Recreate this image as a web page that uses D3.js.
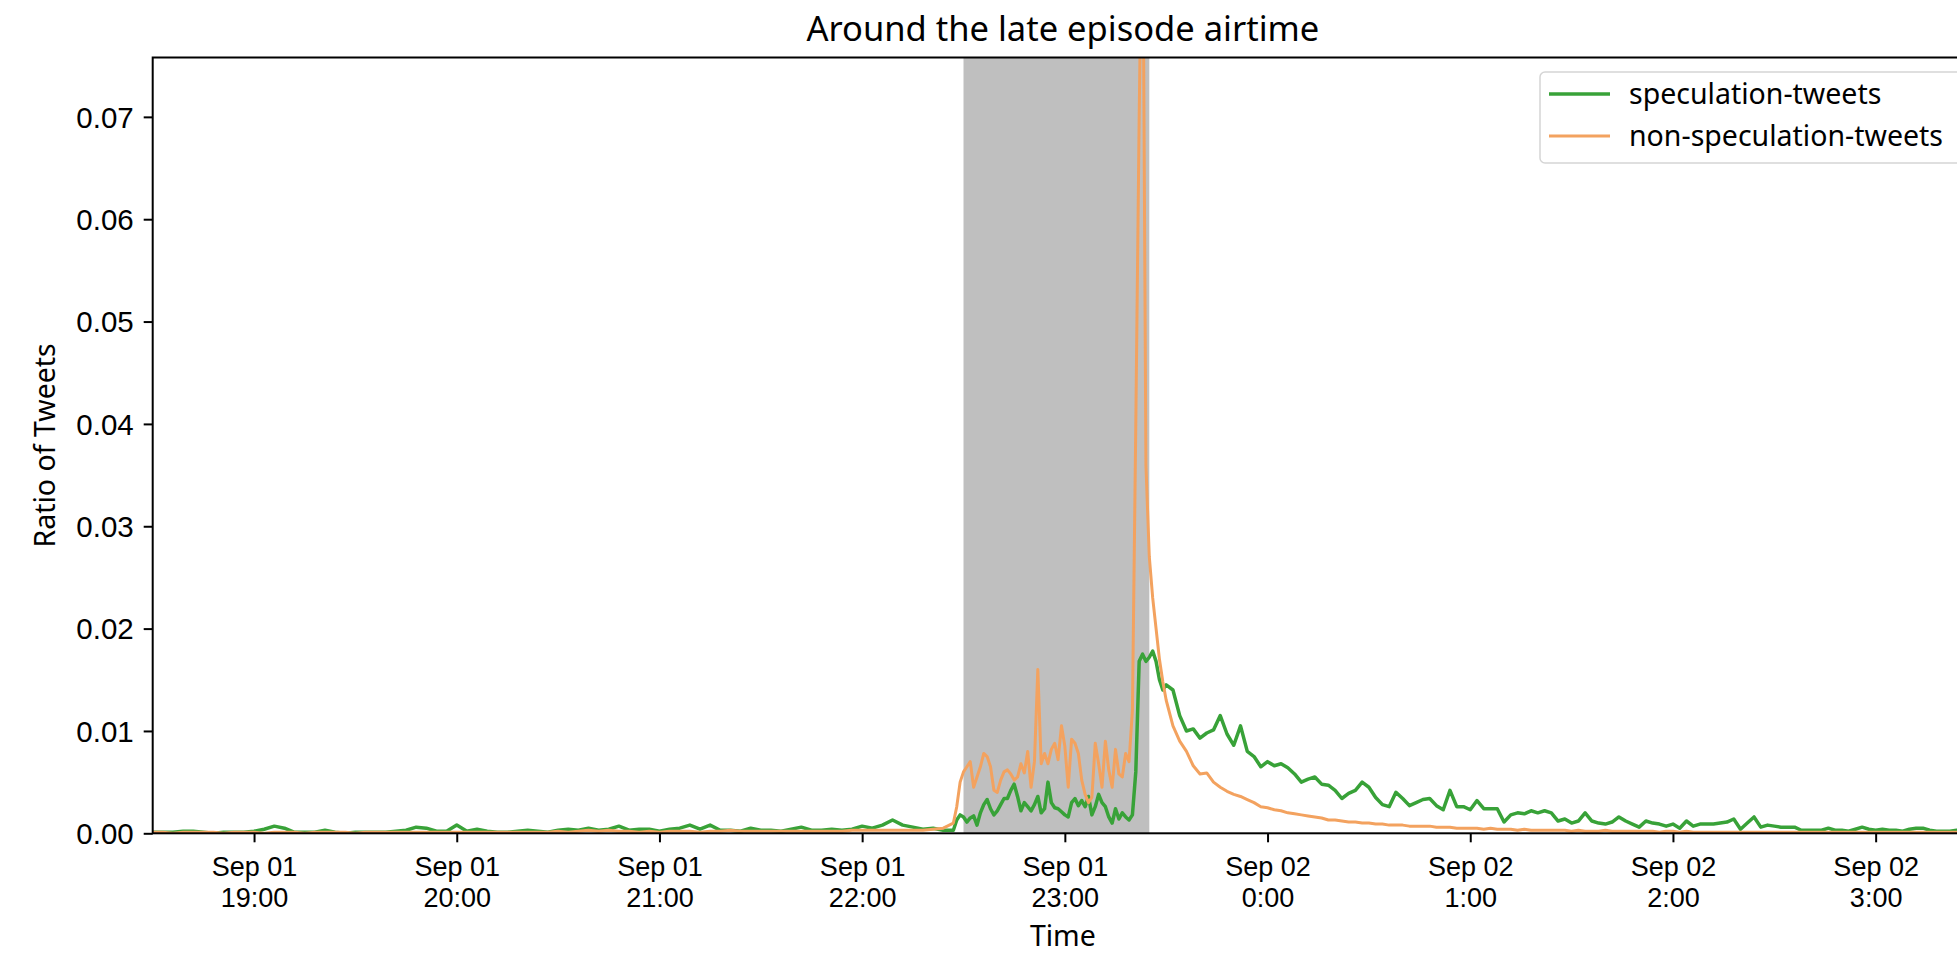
<!DOCTYPE html>
<html>
<head>
<meta charset="utf-8">
<script src="https://cdn.jsdelivr.net/npm/d3@7"></script>
<style>
  html, body { margin: 0; padding: 0; background: #fff; }
  svg { display: block; font-family: 'Noto Sans', 'DejaVu Sans', sans-serif; }
</style>
</head>
<body>
<svg id="chart" width="1957" height="953"></svg>
<script>
// series + airtime window
const seriesNames = ['speculation-tweets', 'non-speculation-tweets']
const seriesColors = ['#38a238', '#f3a25f']
const airtime = [new Date(2019, 8, 1, 22, 30), new Date(2019, 8, 1, 23, 25)]
const timeDomain = [new Date(2019, 8, 1, 18, 30), new Date(2019, 8, 2, 3, 30)]
const yTicks = [0, 0.01, 0.02, 0.03, 0.04, 0.05, 0.06, 0.07]

// 18:30 - 22:27, every 3 minutes
const earlyStart = new Date(2019, 8, 1, 18, 30)
const earlyStep = 3
const specEarly = [
  0.0001, 0.0001, 0.0001, 0.0002, 0.0002, 0.0001, 0.0000, 0.0001, 0.0001, 0.0001,
  0.0002, 0.0004, 0.0007, 0.0005, 0.0001, 0.0001, 0.0001, 0.0003, 0.0001, 0.0000,
  0.0001, 0.0001, 0.0001, 0.0001, 0.0002, 0.0003, 0.0006, 0.0005, 0.0002, 0.0002,
  0.0008, 0.0002, 0.0004, 0.0002, 0.0001, 0.0001, 0.0002, 0.0003, 0.0002, 0.0001,
  0.0003, 0.0004, 0.0003, 0.0005, 0.0003, 0.0004, 0.0007, 0.0003, 0.0004, 0.0004,
  0.0002, 0.0004, 0.0005, 0.0008, 0.0004, 0.0008, 0.0003, 0.0003, 0.0002, 0.0005,
  0.0003, 0.0003, 0.0002, 0.0004, 0.0006, 0.0003, 0.0003, 0.0004, 0.0003, 0.0004,
  0.0007, 0.0005, 0.0008, 0.0013, 0.0008, 0.0006, 0.0004, 0.0005, 0.0003, 0.0003
]
const nonSpecEarly = [
  0.0001, 0.0001, 0.0000, 0.0001, 0.0001, 0.0001, 0.0001, 0.0000, 0.0001, 0.0001,
  0.0001, 0.0000, 0.0001, 0.0001, 0.0001, 0.0000, 0.0001, 0.0001, 0.0001, 0.0001,
  0.0000, 0.0001, 0.0001, 0.0001, 0.0001, 0.0001, 0.0001, 0.0001, 0.0001, 0.0001,
  0.0001, 0.0001, 0.0001, 0.0001, 0.0001, 0.0001, 0.0001, 0.0001, 0.0001, 0.0001,
  0.0002, 0.0001, 0.0002, 0.0003, 0.0002, 0.0003, 0.0002, 0.0002, 0.0001, 0.0002,
  0.0001, 0.0002, 0.0002, 0.0002, 0.0001, 0.0002, 0.0002, 0.0003, 0.0002, 0.0002,
  0.0002, 0.0002, 0.0002, 0.0002, 0.0002, 0.0002, 0.0002, 0.0002, 0.0002, 0.0003,
  0.0003, 0.0003, 0.0003, 0.0003, 0.0003, 0.0003, 0.0003, 0.0004, 0.0005, 0.0010
]

// 22:28 - 23:29, every minute
const airStart = new Date(2019, 8, 1, 22, 28)
const airStep = 1
const specAir = [
  0.0013, 0.0018,
  0.0016, 0.0011, 0.0015, 0.0017, 0.0008, 0.0020, 0.0028, 0.0033, 0.0024, 0.0018,
  0.0022, 0.0028, 0.0034, 0.0034, 0.0042, 0.0048, 0.0036, 0.0022, 0.0030, 0.0026,
  0.0022, 0.0028, 0.0036, 0.0020, 0.0024, 0.0050, 0.0030, 0.0025, 0.0024, 0.0021,
  0.0018, 0.0016, 0.0030, 0.0034, 0.0027, 0.0032, 0.0026, 0.0036, 0.0018, 0.0026,
  0.0038, 0.0030, 0.0026, 0.0016, 0.0010, 0.0024, 0.0014, 0.0020, 0.0016, 0.0013,
  0.0018, 0.0060, 0.0168, 0.0175, 0.0168, 0.0172, 0.0178, 0.0168, 0.0150, 0.0140
]
const nonSpecAir = [
  0.0026, 0.0050,
  0.0060, 0.0065, 0.0070, 0.0045, 0.0055, 0.0065, 0.0078, 0.0075, 0.0065, 0.0042,
  0.0040, 0.0052, 0.0060, 0.0062, 0.0058, 0.0052, 0.0055, 0.0068, 0.0059, 0.0080,
  0.0045, 0.0070, 0.0160, 0.0068, 0.0078, 0.0068, 0.0082, 0.0088, 0.0072, 0.0105,
  0.0085, 0.0045, 0.0092, 0.0088, 0.0078, 0.0052, 0.0038, 0.0030, 0.0035, 0.0088,
  0.0068, 0.0045, 0.0090, 0.0062, 0.0045, 0.0082, 0.0058, 0.0055, 0.0078, 0.0070,
  0.0120, 0.0400, 0.0700, 0.0950, 0.0360, 0.0270, 0.0230, 0.0200, 0.0170, 0.0148
]

// 23:30 - 03:30, every 2 minutes
const lateStart = new Date(2019, 8, 1, 23, 30)
const lateStep = 2
const specLate = [
  0.0145, 0.0140, 0.0115, 0.0100, 0.0102, 0.0093, 0.0098, 0.0101, 0.0115, 0.0097,
  0.0086, 0.0105, 0.0080, 0.0075, 0.0065, 0.0070, 0.0066, 0.0068, 0.0064, 0.0058,
  0.0050, 0.0053, 0.0055, 0.0048, 0.0047, 0.0042, 0.0034, 0.0039, 0.0042, 0.0050,
  0.0045, 0.0035, 0.0028, 0.0026, 0.0040, 0.0034, 0.0027, 0.0030, 0.0033, 0.0034,
  0.0027, 0.0023, 0.0042, 0.0026, 0.0026, 0.0023, 0.0032, 0.0024, 0.0024, 0.0024,
  0.0011, 0.0018, 0.0020, 0.0019, 0.0022, 0.0020, 0.0022, 0.0020, 0.0012, 0.0014,
  0.0010, 0.0012, 0.0020, 0.0012, 0.0010, 0.0009, 0.0011, 0.0016, 0.0012, 0.0009,
  0.0006, 0.0012, 0.0010, 0.0009, 0.0007, 0.0009, 0.0005, 0.0012, 0.0007, 0.0009,
  0.0009, 0.0009, 0.0010, 0.0011, 0.0014, 0.0004, 0.0010, 0.0016, 0.0006, 0.0008,
  0.0007, 0.0006, 0.0006, 0.0006, 0.0003, 0.0003, 0.0003, 0.0003, 0.0005, 0.0003,
  0.0003, 0.0002, 0.0004, 0.0006, 0.0004, 0.0003, 0.0004, 0.0003, 0.0003, 0.0002,
  0.0004, 0.0005, 0.0005, 0.0003, 0.0002, 0.0002, 0.0002, 0.0003, 0.0002, 0.0003,
  0.0002
]
const nonSpecLate = [
  0.0130, 0.0105, 0.0090, 0.0080, 0.0066, 0.0058, 0.0059, 0.0050, 0.0045, 0.0041,
  0.0038, 0.0036, 0.0033, 0.0030, 0.0026, 0.0025, 0.0023, 0.0022, 0.0020, 0.0019,
  0.0018, 0.0017, 0.0016, 0.0015, 0.0013, 0.0013, 0.0012, 0.0011, 0.0011, 0.0010,
  0.0010, 0.0009, 0.0009, 0.0008, 0.0008, 0.0008, 0.0007, 0.0007, 0.0007, 0.0007,
  0.0006, 0.0006, 0.0006, 0.0005, 0.0005, 0.0005, 0.0005, 0.0004, 0.0005, 0.0004,
  0.0004, 0.0004, 0.0003, 0.0004, 0.0003, 0.0003, 0.0003, 0.0003, 0.0003, 0.0003,
  0.0002, 0.0003, 0.0002, 0.0002, 0.0002, 0.0003, 0.0002, 0.0002, 0.0002, 0.0002,
  0.0002, 0.0002, 0.0002, 0.0001, 0.0002, 0.0002, 0.0001, 0.0002, 0.0001, 0.0001,
  0.0001, 0.0001, 0.0001, 0.0001, 0.0001, 0.0001, 0.0001, 0.0001, 0.0001, 0.0001,
  0.0001, 0.0001, 0.0001, 0.0001, 0.0001, 0.0001, 0.0001, 0.0001, 0.0001, 0.0001,
  0.0001, 0.0001, 0.0001, 0.0001, 0.0001, 0.0001, 0.0001, 0.0001, 0.0001, 0.0001,
  0.0001, 0.0001, 0.0001, 0.0001, 0.0001, 0.0001, 0.0001, 0.0001, 0.0001, 0.0001,
  0.0001
]

const toPoints = (start, step, values) =>
  values.map((v, i) => ({t: d3.timeMinute.offset(start, i * step), v}))

const series = [
  [].concat(toPoints(earlyStart, earlyStep, specEarly),
            toPoints(airStart, airStep, specAir),
            toPoints(lateStart, lateStep, specLate)),
  [].concat(toPoints(earlyStart, earlyStep, nonSpecEarly),
            toPoints(airStart, airStep, nonSpecAir),
            toPoints(lateStart, lateStep, nonSpecLate))
]

// layout
const plotLeft = 152.7
const plotRight = 1977
const plotTop = 57.5
const plotBottom = 833.3
const xTickFont = 27
const yTickFont = 29.5
const labelFont = 28.5
const legendFont = 28.5

const svg = d3.select('#chart')

const x = d3.scaleTime().domain(timeDomain).range([plotLeft, plotRight])
const y = d3.scaleLinear().domain([0, 0.0758]).range([plotBottom, plotTop])

svg.append('clipPath').attr('id', 'plot-clip')
   .append('rect')
   .attr('x', plotLeft).attr('y', plotTop)
   .attr('width', plotRight - plotLeft).attr('height', plotBottom - plotTop)

// airtime shading
svg.append('rect')
   .attr('x', x(airtime[0]))
   .attr('y', plotTop)
   .attr('width', x(airtime[1]) - x(airtime[0]))
   .attr('height', plotBottom - plotTop)
   .attr('fill', '#bfbfbf')

const line = d3.line().x(d => x(d.t)).y(d => y(d.v))

svg.append('g')
   .attr('clip-path', 'url(#plot-clip)')
   .selectAll('path')
   .data(series)
   .enter()
   .append('path')
   .attr('d', line)
   .attr('fill', 'none')
   .attr('stroke', (d, i) => seriesColors[i])
   .attr('stroke-width', (d, i) => i === 0 ? 3.5 : 3)
   .attr('stroke-linejoin', 'round')

// x axis
const fmtDay = d3.timeFormat('%b %d')
const fmtHour = d3.timeFormat('%-H:%M')
const gx = svg.append('g')
  .attr('transform', `translate(0,${plotBottom})`)
  .call(d3.axisBottom(x).ticks(d3.timeHour.every(1)).tickSize(9).tickSizeOuter(0))
gx.select('.domain').remove()
gx.selectAll('.tick line').attr('stroke', '#000').attr('stroke-width', 2)
gx.selectAll('.tick text')
  .attr('dy', null)
  .attr('font-size', xTickFont)
  .attr('fill', '#000')
  .each(function (d) {
    const t = d3.select(this)
    t.text(null)
    t.append('tspan').attr('x', 0).attr('y', 43).text(fmtDay(d))
    t.append('tspan').attr('x', 0).attr('y', 74).text(fmtHour(d))
  })

// y axis
const gy = svg.append('g')
  .attr('transform', `translate(${plotLeft},0)`)
  .call(d3.axisLeft(y).tickValues(yTicks).tickFormat(d3.format('.2f'))
    .tickSize(9).tickPadding(10).tickSizeOuter(0))
gy.select('.domain').remove()
gy.selectAll('.tick line').attr('stroke', '#000').attr('stroke-width', 2)
gy.selectAll('.tick text').attr('font-size', yTickFont).attr('fill', '#000')
  .attr('dy', '0.35em')

// spines (right one falls outside the window)
svg.append('rect')
   .attr('x', plotLeft).attr('y', plotTop)
   .attr('width', plotRight - plotLeft).attr('height', plotBottom - plotTop)
   .attr('fill', 'none')
   .attr('stroke', '#000')
   .attr('stroke-width', 2)

// labels
svg.append('text')
   .attr('x', (plotLeft + plotRight) / 2 - 2)
   .attr('y', 41)
   .attr('text-anchor', 'middle')
   .attr('font-size', 34.5)
   .text('Around the late episode airtime')

svg.append('text')
   .attr('x', (plotLeft + plotRight) / 2 - 2)
   .attr('y', 946)
   .attr('text-anchor', 'middle')
   .attr('font-size', labelFont)
   .text('Time')

svg.append('text')
   .attr('transform', `translate(55,${(plotTop + plotBottom) / 2}) rotate(-90)`)
   .attr('text-anchor', 'middle')
   .attr('font-size', labelFont)
   .text('Ratio of Tweets')

// legend
const legend = svg.append('g').attr('transform', 'translate(1540,72)')
legend.append('rect')
      .attr('width', 423).attr('height', 91).attr('rx', 5)
      .attr('fill', '#fff').attr('fill-opacity', 0.8)
      .attr('stroke', '#d5d5d5').attr('stroke-width', 1.5)
const items = legend.selectAll('.item')
  .data(seriesNames)
  .enter()
  .append('g')
  .attr('class', 'item')
  .attr('transform', (d, i) => `translate(0,${22 + i * 42})`)
items.append('line')
     .attr('x1', 9).attr('x2', 70)
     .attr('stroke', (d, i) => seriesColors[i])
     .attr('stroke-width', (d, i) => i === 0 ? 3.5 : 3)
items.append('text')
     .attr('x', 89).attr('y', 10)
     .attr('font-size', legendFont)
     .text(d => d)
</script>
</body>
</html>
